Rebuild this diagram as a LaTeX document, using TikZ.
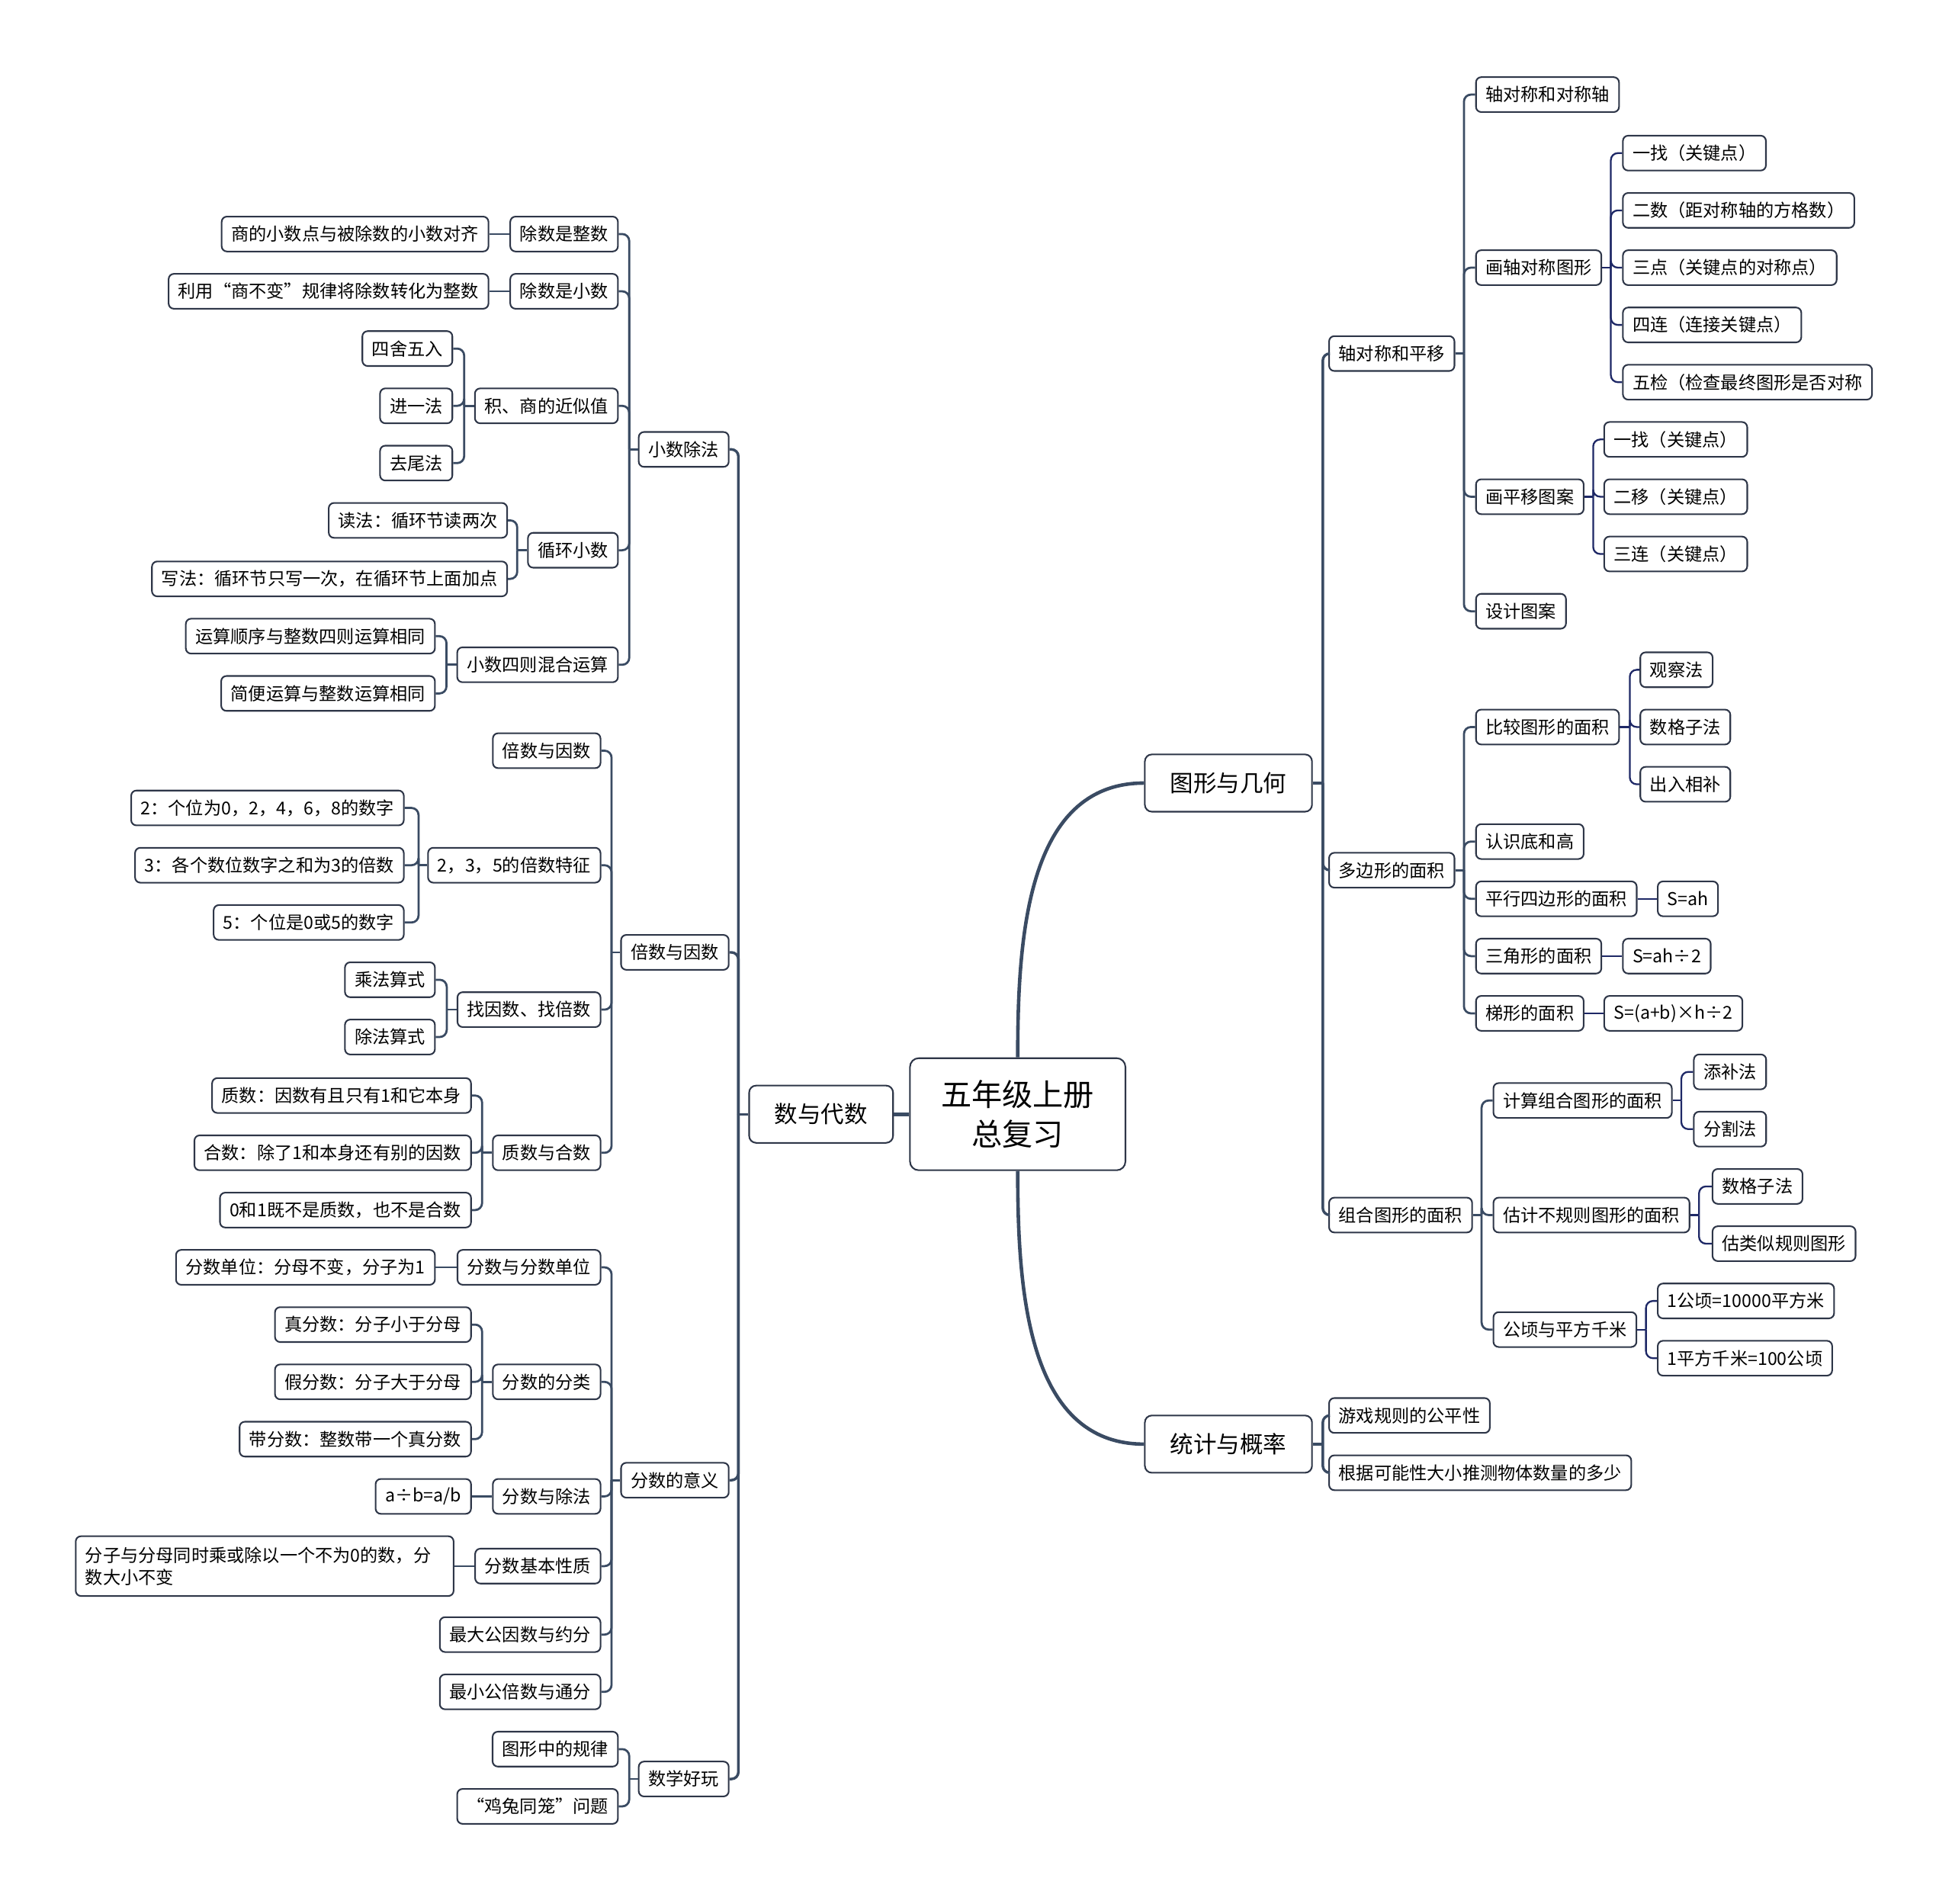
\documentclass[tikz,border=0pt]{standalone}
\usepackage{fontspec}
\setmainfont{Noto Sans CJK SC}
\usepackage{tikz}
\usepackage{xcolor}

\definecolor{linkc}{HTML}{3A4B63}
\definecolor{deepc}{HTML}{1E2866}
\definecolor{boxc}{HTML}{2E3648}

\tikzset{
  box/.style={draw=boxc, fill=white, rounded corners=3pt, line width=0.9pt, minimum height=0.7cm, inner xsep=5.5pt, inner ysep=0pt, font=\fontsize{10.1}{12}\selectfont},
  mainbox/.style={box, rounded corners=4pt, minimum height=1.15cm, inner xsep=14.5pt, font=\fontsize{13.3}{16}\selectfont},
  rootbox/.style={box, rounded corners=5pt, minimum height=2.25cm, minimum width=4.325cm, align=center, font=\fontsize{17.5}{22.7}\selectfont},
  link/.style={draw=linkc, line width=1.2pt, rounded corners=4pt},
  link1/.style={link, line width=1.5pt},
  deeplink/.style={link, draw=deepc, line width=1pt},
  rootlink/.style={draw=linkc, line width=2pt}
}

\begin{document}
\begin{tikzpicture}[x=0.025cm, y=-0.025cm]
\fill[white] (0,0) rectangle (1568,1529);
\useasboundingbox (0,0) rectangle (1568,1529);

\node[rootbox] (root) at (817.5,895) {五年级上册\\总复习};
\node[mainbox, anchor=east] (sy) at (718,895) {数与代数};
\node[mainbox, anchor=west] (tx) at (919,629) {图形与几何};
\node[mainbox, anchor=west] (tj) at (919,1160) {统计与概率};

% 数与代数
\node[box, anchor=east] (xs) at (586,361) {小数除法};
\node[box, anchor=east] (bs) at (586,765) {倍数与因数};
\node[box, anchor=east] (fs) at (586,1189) {分数的意义};
\node[box, anchor=east] (hw) at (586,1429) {数学好玩};

\node[box, anchor=east] (xs1) at (497,188) {除数是整数};
\node[box, anchor=east] (xs2) at (497,234) {除数是小数};
\node[box, anchor=east] (xs3) at (497,326) {积、商的近似值};
\node[box, anchor=east] (xs4) at (497,442) {循环小数};
\node[box, anchor=east] (xs5) at (497,534) {小数四则混合运算};
\node[box, anchor=east] (xs1a) at (393,188) {商的小数点与被除数的小数对齐};
\node[box, anchor=east] (xs2a) at (393,234) {利用“商不变”规律将除数转化为整数};
\node[box, anchor=east] (xs3a) at (364,280) {四舍五入};
\node[box, anchor=east] (xs3b) at (364,326) {进一法};
\node[box, anchor=east] (xs3c) at (364,372) {去尾法};
\node[box, anchor=east] (xs4a) at (408,418) {读法：循环节读两次};
\node[box, anchor=east] (xs4b) at (408,465) {写法：循环节只写一次，在循环节上面加点};
\node[box, anchor=east] (xs5a) at (350,511) {运算顺序与整数四则运算相同};
\node[box, anchor=east] (xs5b) at (350,557) {简便运算与整数运算相同};

\node[box, anchor=east] (bs1) at (483,603) {倍数与因数};
\node[box, anchor=east] (bs2) at (483,695) {2，3，5的倍数特征};
\node[box, anchor=east] (bs3) at (483,811) {找因数、找倍数};
\node[box, anchor=east] (bs4) at (483,926) {质数与合数};
\node[box, anchor=east] (bs2a) at (325,649) {2：个位为0，2，4，6，8的数字};
\node[box, anchor=east] (bs2b) at (325,695) {3：各个数位数字之和为3的倍数};
\node[box, anchor=east] (bs2c) at (325,741) {5：个位是0或5的数字};
\node[box, anchor=east] (bs3a) at (350,787) {乘法算式};
\node[box, anchor=east] (bs3b) at (350,833) {除法算式};
\node[box, anchor=east] (bs4a) at (379,880) {质数：因数有且只有1和它本身};
\node[box, anchor=east] (bs4b) at (379,926) {合数：除了1和本身还有别的因数};
\node[box, anchor=east] (bs4c) at (379,972) {0和1既不是质数，也不是合数};

\node[box, anchor=east] (fs1) at (483,1018) {分数与分数单位};
\node[box, anchor=east] (fs2) at (483,1110) {分数的分类};
\node[box, anchor=east] (fs3) at (483,1202) {分数与除法};
\node[box, anchor=east] (fs4) at (483,1258) {分数基本性质};
\node[box, anchor=east] (fs5) at (483,1313) {最大公因数与约分};
\node[box, anchor=east] (fs6) at (483,1359) {最小公倍数与通分};
\node[box, anchor=east] (fs1a) at (350,1018) {分数单位：分母不变，分子为1};
\node[box, anchor=east] (fs2a) at (379,1064) {真分数：分子小于分母};
\node[box, anchor=east] (fs2b) at (379,1110) {假分数：分子大于分母};
\node[box, anchor=east] (fs2c) at (379,1156) {带分数：整数带一个真分数};
\node[box, anchor=east] (fs3a) at (379,1202) {a÷b=a/b};
\node[box, anchor=east, minimum height=1.2cm, text width=7.2cm, align=left, font=\fontsize{10.1}{12.8}\selectfont] (fs4a) at (365,1258) {分子与分母同时乘或除以一个不为0的数，分\\数大小不变};

\node[box, anchor=east] (hw1) at (497,1405) {图形中的规律};
\node[box, anchor=east] (hw2) at (497,1451) {“鸡兔同笼”问题};

% 图形与几何
\node[box, anchor=west] (tx1) at (1067,284) {轴对称和平移};
\node[box, anchor=west] (tx2) at (1067,699) {多边形的面积};
\node[box, anchor=west] (tx3) at (1067,976) {组合图形的面积};

\node[box, anchor=west] (tx1a) at (1185,76) {轴对称和对称轴};
\node[box, anchor=west] (tx1b) at (1185,215) {画轴对称图形};
\node[box, anchor=west] (tx1c) at (1185,399) {画平移图案};
\node[box, anchor=west] (tx1d) at (1185,491) {设计图案};
\node[box, anchor=west] (dcz1) at (1303,123) {一找（关键点）};
\node[box, anchor=west] (dcz2) at (1303,169) {二数（距对称轴的方格数）};
\node[box, anchor=west] (dcz3) at (1303,215) {三点（关键点的对称点）};
\node[box, anchor=west] (dcz4) at (1303,261) {四连（连接关键点）};
\node[box, anchor=west] (dcz5) at (1303,307) {五检（检查最终图形是否对称};
\node[box, anchor=west] (pyz1) at (1288,353) {一找（关键点）};
\node[box, anchor=west] (pyz2) at (1288,399) {二移（关键点）};
\node[box, anchor=west] (pyz3) at (1288,445) {三连（关键点）};

\node[box, anchor=west] (tx2a) at (1185,584) {比较图形的面积};
\node[box, anchor=west] (tx2b) at (1185,676) {认识底和高};
\node[box, anchor=west] (tx2c) at (1185,722) {平行四边形的面积};
\node[box, anchor=west] (tx2d) at (1185,768) {三角形的面积};
\node[box, anchor=west] (tx2e) at (1185,814) {梯形的面积};
\node[box, anchor=west] (bjz1) at (1317,538) {观察法};
\node[box, anchor=west] (bjz2) at (1317,584) {数格子法};
\node[box, anchor=west] (bjz3) at (1317,630) {出入相补};
\node[box, anchor=west] (gs1) at (1331,722) {S=ah};
\node[box, anchor=west] (gs2) at (1303,768) {S=ah÷2};
\node[box, anchor=west] (gs3) at (1288,814) {S=(a+b)×h÷2};

\node[box, anchor=west] (tx3a) at (1199,884) {计算组合图形的面积};
\node[box, anchor=west] (tx3b) at (1199,976) {估计不规则图形的面积};
\node[box, anchor=west] (tx3c) at (1199,1068) {公顷与平方千米};
\node[box, anchor=west] (jsz1) at (1360,861) {添补法};
\node[box, anchor=west] (jsz2) at (1360,907) {分割法};
\node[box, anchor=west] (gjz1) at (1375,953) {数格子法};
\node[box, anchor=west] (gjz2) at (1375,999) {估类似规则图形};
\node[box, anchor=west] (gqz1) at (1331,1045) {1公顷=10000平方米};
\node[box, anchor=west] (gqz2) at (1331,1091) {1平方千米=100公顷};

% 统计与概率
\node[box, anchor=west] (tj1) at (1067,1137) {游戏规则的公平性};
\node[box, anchor=west] (tj2) at (1067,1183) {根据可能性大小推测物体数量的多少};

% connectors
\draw[rootlink] (root.north) to[out=90,in=180] (tx.west);
\draw[rootlink] (root.south) to[out=-90,in=180] (tj.west);
\draw[rootlink] (root.west) -- (sy.east);

\path (sy.west) ++(-8,0) coordinate (sy-j);
\draw[link1] (sy.west) -- (sy-j);
\foreach \k in {xs,bs,fs,hw} \draw[link1] (sy-j) |- (\k.east);

\path (xs.west) ++(-7,0) coordinate (xs-j);
\draw[link] (xs.west) -- (xs-j);
\foreach \k in {xs1,xs2,xs3,xs4,xs5} \draw[link] (xs-j) |- (\k.east);
\draw[link] (xs1.west) -- (xs1a.east);
\draw[link] (xs2.west) -- (xs2a.east);
\path (xs3.west) ++(-8,0) coordinate (xs3-j);
\draw[link] (xs3.west) -- (xs3-j);
\foreach \k in {xs3a,xs3b,xs3c} \draw[link] (xs3-j) |- (\k.east);
\path (xs4.west) ++(-8,0) coordinate (xs4-j);
\draw[link] (xs4.west) -- (xs4-j);
\foreach \k in {xs4a,xs4b} \draw[link] (xs4-j) |- (\k.east);
\path (xs5.west) ++(-8,0) coordinate (xs5-j);
\draw[link] (xs5.west) -- (xs5-j);
\foreach \k in {xs5a,xs5b} \draw[link] (xs5-j) |- (\k.east);

\path (bs.west) ++(-7,0) coordinate (bs-j);
\draw[link] (bs.west) -- (bs-j);
\foreach \k in {bs1,bs2,bs3,bs4} \draw[link] (bs-j) |- (\k.east);
\path (bs2.west) ++(-7,0) coordinate (bs2-j);
\draw[link] (bs2.west) -- (bs2-j);
\foreach \k in {bs2a,bs2b,bs2c} \draw[link] (bs2-j) |- (\k.east);
\path (bs3.west) ++(-8,0) coordinate (bs3-j);
\draw[link] (bs3.west) -- (bs3-j);
\foreach \k in {bs3a,bs3b} \draw[link] (bs3-j) |- (\k.east);
\path (bs4.west) ++(-8,0) coordinate (bs4-j);
\draw[link] (bs4.west) -- (bs4-j);
\foreach \k in {bs4a,bs4b,bs4c} \draw[link] (bs4-j) |- (\k.east);

\path (fs.west) ++(-7,0) coordinate (fs-j);
\draw[link] (fs.west) -- (fs-j);
\foreach \k in {fs1,fs2,fs3,fs4,fs5,fs6} \draw[link] (fs-j) |- (\k.east);
\draw[link] (fs1.west) -- (fs1a.east);
\path (fs2.west) ++(-8,0) coordinate (fs2-j);
\draw[link] (fs2.west) -- (fs2-j);
\foreach \k in {fs2a,fs2b,fs2c} \draw[link] (fs2-j) |- (\k.east);
\draw[link] (fs3.west) -- (fs3a.east);
\draw[link] (fs4.west) -- (fs4a.east);

\path (hw.west) ++(-7,0) coordinate (hw-j);
\draw[link] (hw.west) -- (hw-j);
\foreach \k in {hw1,hw2} \draw[link] (hw-j) |- (\k.east);

\path (tx.east) ++(8,0) coordinate (tx-j);
\draw[link1] (tx.east) -- (tx-j);
\foreach \k in {tx1,tx2,tx3} \draw[link1] (tx-j) |- (\k.west);

\path (tx1.east) ++(7,0) coordinate (tx1-j);
\draw[link] (tx1.east) -- (tx1-j);
\foreach \k in {tx1a,tx1b,tx1c,tx1d} \draw[link] (tx1-j) |- (\k.west);
\path (tx1b.east) ++(7,0) coordinate (tx1b-j);
\draw[deeplink] (tx1b.east) -- (tx1b-j);
\foreach \k in {dcz1,dcz2,dcz3,dcz4,dcz5} \draw[deeplink] (tx1b-j) |- (\k.west);
\path (tx1c.east) ++(7,0) coordinate (tx1c-j);
\draw[deeplink] (tx1c.east) -- (tx1c-j);
\foreach \k in {pyz1,pyz2,pyz3} \draw[deeplink] (tx1c-j) |- (\k.west);

\path (tx2.east) ++(7,0) coordinate (tx2-j);
\draw[link] (tx2.east) -- (tx2-j);
\foreach \k in {tx2a,tx2b,tx2c,tx2d,tx2e} \draw[link] (tx2-j) |- (\k.west);
\path (tx2a.east) ++(8,0) coordinate (tx2a-j);
\draw[deeplink] (tx2a.east) -- (tx2a-j);
\foreach \k in {bjz1,bjz2,bjz3} \draw[deeplink] (tx2a-j) |- (\k.west);
\draw[deeplink] (tx2c.east) -- (gs1.west);
\draw[deeplink] (tx2d.east) -- (gs2.west);
\draw[deeplink] (tx2e.east) -- (gs3.west);

\path (tx3.east) ++(7,0) coordinate (tx3-j);
\draw[link] (tx3.east) -- (tx3-j);
\foreach \k in {tx3a,tx3b,tx3c} \draw[link] (tx3-j) |- (\k.west);
\path (tx3a.east) ++(7,0) coordinate (tx3a-j);
\draw[deeplink] (tx3a.east) -- (tx3a-j);
\foreach \k in {jsz1,jsz2} \draw[deeplink] (tx3a-j) |- (\k.west);
\path (tx3b.east) ++(7,0) coordinate (tx3b-j);
\draw[deeplink] (tx3b.east) -- (tx3b-j);
\foreach \k in {gjz1,gjz2} \draw[deeplink] (tx3b-j) |- (\k.west);
\path (tx3c.east) ++(7,0) coordinate (tx3c-j);
\draw[deeplink] (tx3c.east) -- (tx3c-j);
\foreach \k in {gqz1,gqz2} \draw[deeplink] (tx3c-j) |- (\k.west);

\path (tj.east) ++(8,0) coordinate (tj-j);
\draw[link1] (tj.east) -- (tj-j);
\foreach \k in {tj1,tj2} \draw[link1] (tj-j) |- (\k.west);
\end{tikzpicture}
\end{document}
